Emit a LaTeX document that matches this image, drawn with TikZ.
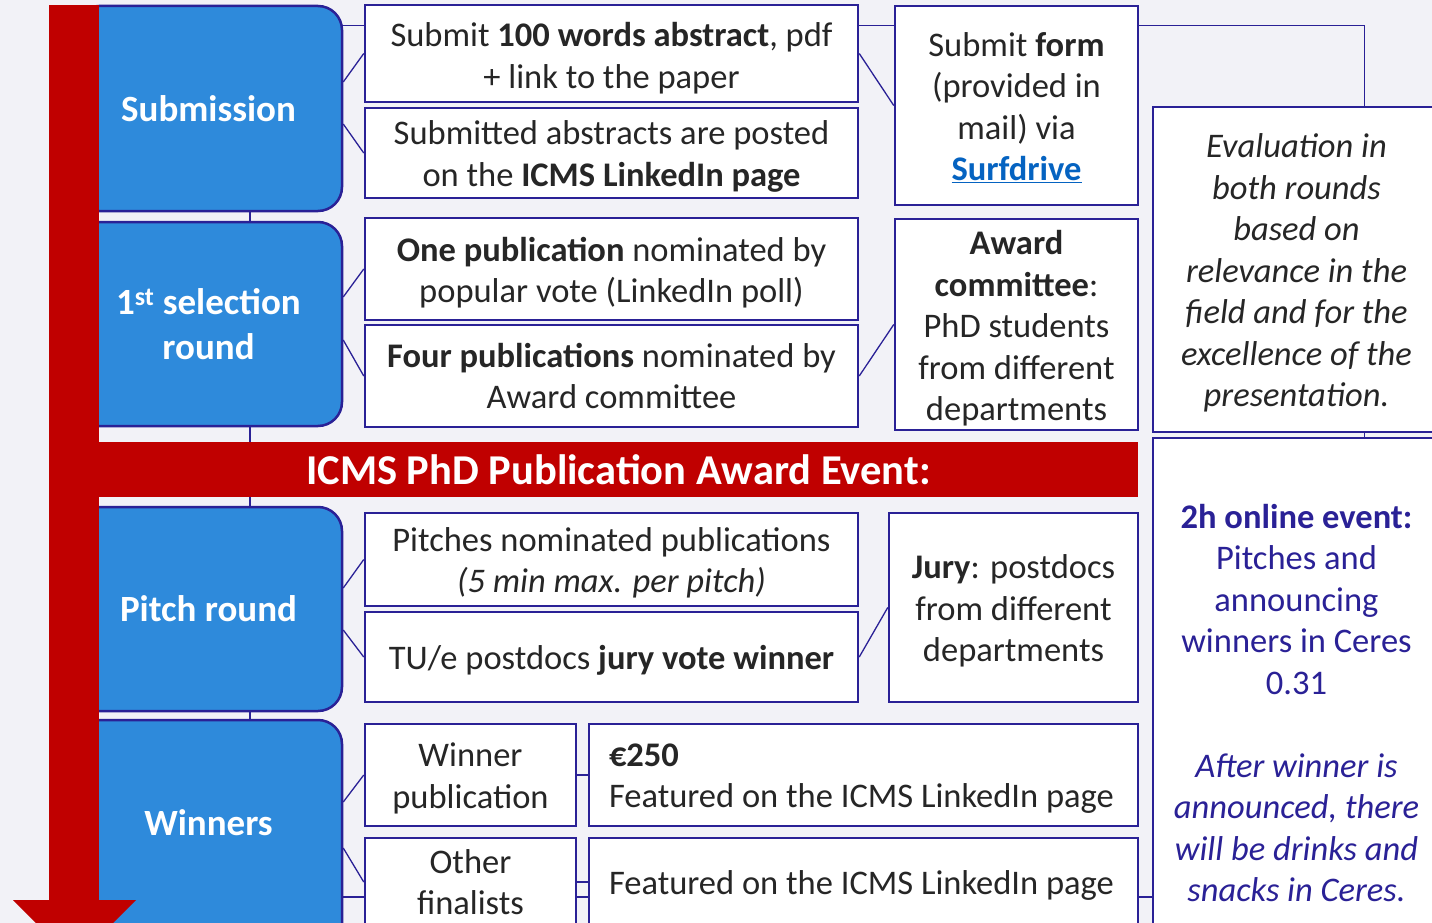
\documentclass[tikz,border=0pt]{standalone}
\usepackage{fontspec}
\setmainfont{Carlito}
\usetikzlibrary{calc}
\definecolor{dkblue}{HTML}{2A2196}
\definecolor{bfill}{HTML}{2E8ADB}
\definecolor{ared}{HTML}{C00000}
\definecolor{txt}{HTML}{262626}
\definecolor{lnk}{HTML}{0563C1}
\definecolor{bg}{HTML}{F2F2F7}
\newcommand\tsr[1]{\rule{0pt}{#1pt}}
\pgfdeclarelayer{bglayer}
\pgfdeclarelayer{connlayer}
\pgfsetlayers{bglayer,connlayer,main}
\begin{document}
\begin{tikzpicture}[x=1pt,y=-1pt,
  wbox/.style={draw=dkblue,line width=2.5pt,fill=white,inner sep=0pt,text=txt,align=center,
    font=\fontsize{34.5}{41.5}\selectfont},
  bbox/.style={draw=dkblue,line width=2.5pt,fill=bfill,rounded corners=24pt,inner sep=0pt,text=white,align=center,font=\fontsize{37}{45}\selectfont\bfseries},
  conn/.style={draw=dkblue,line width=1.3pt}]
\useasboundingbox (0,0) rectangle (1432,923);
\begin{pgfonlayer}{bglayer}
  \fill[bg] (0,0) rectangle (1432,923);
\end{pgfonlayer}
% blue stage boxes
\node[bbox,minimum width=267pt,minimum height=205pt] (sub) at (208.5,108.5) {Submission};
\node[bbox,minimum width=267pt,minimum height=204pt] (sel) at (208.5,324) {1\textsuperscript{st} selection\\round};
\node[bbox,minimum width=267pt,minimum height=204pt] (pit) at (208.5,609) {Pitch round};
\node[bbox,minimum width=267pt,minimum height=240pt,
  label={[text=white,font=\fontsize{37}{45}\selectfont\bfseries,yshift=17pt]center:Winners}] (win) at (208.5,840) {};
% white boxes column 1
\node[wbox,minimum width=493pt,minimum height=97pt] (a1) at (611.5,53.5) {\tsr{34}Submit \textbf{100 words abstract}, pdf\\+ link to the paper};
\node[wbox,minimum width=493pt,minimum height=90pt] (a2) at (611.5,153) {\tsr{31}Submitted abstracts are posted\\on the \textbf{ICMS LinkedIn page}};
\node[wbox,minimum width=493pt,minimum height=102pt] (b1) at (611.5,269) {\tsr{32}\textbf{One publication} nominated by\\popular vote (LinkedIn poll)};
\node[wbox,minimum width=493pt,minimum height=102pt] (b2) at (611.5,376) {\textbf{Four publications} nominated by\\Award committee};
\node[wbox,minimum width=493pt,minimum height=93pt] (c1) at (611.5,559.5) {\tsr{31}Pitches nominated publications\\\textit{(5 min max. per pitch)}};
\node[wbox,minimum width=493pt,minimum height=90pt] (c2) at (611.5,657) {\tsr{30}TU/e postdocs \textbf{jury vote winner}};
\node[wbox,minimum width=211pt,minimum height=102pt] (d1) at (470.5,775) {\tsr{31}Winner\\publication};
\node[wbox,minimum width=211pt,minimum height=88pt] (d2) at (470.5,882) {Other\\finalists};
\node[wbox,minimum width=549pt,minimum height=102pt,text width=509pt,align=flush left] (e1) at (863.5,775) {\tsr{30}\textbf{€250}\\Featured on the ICMS LinkedIn page};
\node[wbox,minimum width=549pt,minimum height=88pt,text width=509pt,align=flush left] (e2) at (863.5,882) {\tsr{30}Featured on the ICMS LinkedIn page};
% column 2
\node[wbox,minimum width=243pt,minimum height=199pt] (f1) at (1016.5,105.5) {\tsr{28}Submit \textbf{form}\\(provided in\\mail) via\\\textcolor{lnk}{\textbf{\underline{Surfdrive}}}};
\node[wbox,minimum width=243pt,minimum height=211pt] (f2) at (1016.5,324.5) {\tsr{32}\textbf{Award}\\\textbf{committee}:\\PhD students\\from different\\departments};
\node[wbox,minimum width=249pt,minimum height=189pt] (g) at (1013.5,607.5) {\tsr{31}\textbf{Jury}: postdocs\\from different\\departments};
% column 3
\node[wbox,minimum width=287pt,minimum height=325pt] (h1) at (1296.5,269.5) {\tsr{31}\itshape Evaluation in\\\itshape both rounds\\\itshape based on\\\itshape relevance in the\\\itshape field and for the\\\itshape excellence of the\\\itshape presentation.};
\node[wbox,minimum width=287pt,minimum height=530pt,text=dkblue] (h2) at (1296.5,703) {\textbf{2h online event:}\\Pitches and\\announcing\\winners in Ceres\\0.31\\[41.5pt]\itshape After winner is\\\itshape announced, there\\\itshape will be drinks and\\\itshape snacks in Ceres.};
% connectors
\begin{pgfonlayer}{connlayer}
  \draw[conn] ($(sub.south)+(41.5,-20)$) -- ($(win.north)+(41.5,20)$);
  \draw[conn] ($(sub.north east)+(-40,21)$) -| ($(h1.north west)+(213,0)$);
  \draw[conn] ($(h1.south west)+(213,0)$) -- ($(h2.north west)+(213,0)$);
  \coordinate (wl) at ($(win.east)+(-40,57)$);
  \draw[conn] (wl) -- (wl -| h2.west);
  \draw[conn] ($(sub.east)+(0,-26.5)$) -- (a1.west);
  \draw[conn] ($(sub.east)+(0,15.5)$) -- (a2.west);
  \draw[conn] (a1.east) -- (f1.west);
  \draw[conn] ($(sel.east)+(0,-27)$) -- (b1.west);
  \draw[conn] ($(sel.east)+(0,16)$) -- (b2.west);
  \draw[conn] (b2.east) -- (f2.west);
  \draw[conn] ($(pit.east)+(0,-21)$) -- (c1.west);
  \draw[conn] ($(pit.east)+(0,21)$) -- (c2.west);
  \draw[conn] (c2.east) -- (g.west);
  \draw[conn] ($(win.east)+(0,-38)$) -- (d1.west);
  \draw[conn] ($(win.east)+(0,8)$) -- (d2.west);
  \draw[conn] (d1.east) -- (e1.west);
  \draw[conn] (d2.east) -- (e2.west);
\end{pgfonlayer}
% red timeline arrow and event band
\fill[ared] (49,5) rectangle (99,901);
\fill[ared] (13,900) -- (136,900) -- (74.5,962) -- cycle;
\node[fill=ared,minimum width=1039pt,minimum height=55pt,inner sep=0pt,text=white,font=\fontsize{42.5}{48}\selectfont\bfseries] (band) at (618.5,469.5) {ICMS PhD Publication Award Event:};
\end{tikzpicture}
\end{document}
